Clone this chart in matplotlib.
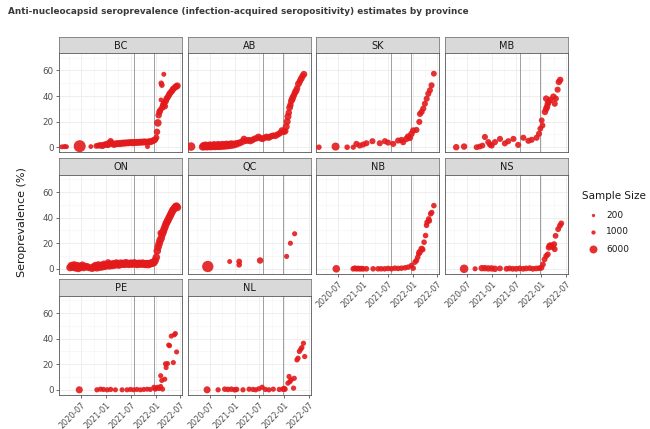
#!/usr/bin/env python3
# plot.py - seroprevalence by province, small multiples
import pandas as pd
import matplotlib
matplotlib.use("Agg")
import matplotlib.pyplot as plt
import matplotlib.dates as mdates

# ---- data ----
provinces = ["BC", "AB", "SK", "MB", "ON", "QC", "NB", "NS", "PE", "NL"]

bc_dates = ["2020-02-10", "2020-03-01", "2020-03-15", "2020-06-20", "2020-09-10", "2020-10-20",
            "2020-11-05", "2020-11-20", "2020-12-05", "2020-12-20", "2021-01-05", "2021-01-15",
            "2021-01-25", "2021-02-03", "2021-02-10", "2021-02-20", "2021-03-01", "2021-03-15",
            "2021-03-25", "2021-04-05", "2021-04-15", "2021-04-25", "2021-05-05", "2021-05-15",
            "2021-05-25", "2021-06-05", "2021-06-15", "2021-06-25", "2021-07-05", "2021-07-15",
            "2021-07-25", "2021-08-05", "2021-08-15", "2021-08-25", "2021-09-05", "2021-09-15",
            "2021-09-25", "2021-10-05", "2021-10-15", "2021-10-25", "2021-11-01", "2021-11-10",
            "2021-11-20", "2021-12-01", "2021-12-10", "2021-12-20", "2021-12-28", "2022-01-05",
            "2022-01-10", "2022-01-16", "2022-01-22", "2022-01-28", "2022-02-03", "2022-02-08",
            "2022-02-10", "2022-02-15", "2022-02-18", "2022-02-24", "2022-03-01", "2022-03-03",
            "2022-03-10", "2022-03-15", "2022-03-22", "2022-03-30", "2022-04-06", "2022-04-14",
            "2022-04-22", "2022-04-30", "2022-05-08", "2022-05-16", "2022-05-24", "2022-06-01",
            "2022-06-08"]
bc_sero = [0.3, 0.5, 0.4, 0.8, 0.5, 1.0, 1.3, 1.5, 1.2, 2.0, 2.3, 1.8, 3.5, 4.8, 3.0, 2.5, 2.2,
           2.8, 2.6, 3.0, 2.7, 3.2, 3.0, 3.4, 3.1, 3.5, 3.3, 3.6, 3.8, 3.4, 3.9, 3.6, 4.0, 3.7,
           4.1, 3.8, 4.2, 4.0, 4.3, 3.9, 0.5, 4.4, 4.2, 4.6, 5.0, 5.5, 6.0, 7.5, 12.0, 19.0,
           25.0, 27.5, 29.0, 37.0, 50.0, 48.5, 31.0, 33.0, 57.0, 34.5, 32.0, 36.0, 38.0, 39.0,
           40.5, 42.0, 43.0, 44.0, 45.5, 46.0, 47.0, 47.5, 48.0]
bc_n = [400, 500, 300, 8000, 300, 900, 1200, 1500, 1800, 1500, 1800, 1500, 1500, 1200, 1800,
        1500, 2000, 1800, 1500, 1800, 1500, 1800, 1500, 1800, 1500, 1800, 1500, 1800, 1500,
        1800, 1500, 1800, 1500, 1800, 1500, 1800, 1500, 1800, 1500, 1800, 400, 1500, 1800,
        1500, 1800, 1500, 1200, 1200, 1500, 2500, 1500, 1500, 1200, 300, 800, 800, 1500, 1500,
        400, 1500, 1200, 1500, 1500, 1200, 1500, 1500, 1200, 1500, 1500, 1200, 1500, 1500, 1800]

ab_dates = ["2020-02-15", "2020-05-10", "2020-05-18", "2020-05-25", "2020-06-02", "2020-06-10",
            "2020-06-18", "2020-06-25", "2020-07-03", "2020-07-10", "2020-07-18", "2020-07-25",
            "2020-08-02", "2020-08-10", "2020-08-18", "2020-08-25", "2020-09-02", "2020-09-10",
            "2020-09-18", "2020-09-25", "2020-10-03", "2020-10-10", "2020-10-18", "2020-10-25",
            "2020-11-02", "2020-11-10", "2020-11-18", "2020-11-25", "2020-12-03", "2020-12-10",
            "2020-12-18", "2020-12-25", "2021-01-10", "2021-01-25", "2021-02-10", "2021-03-01",
            "2021-03-10", "2021-03-25", "2021-04-10", "2021-04-25", "2021-05-10", "2021-05-25",
            "2021-06-10", "2021-06-25", "2021-07-10", "2021-07-25", "2021-08-10", "2021-08-25",
            "2021-09-10", "2021-09-25", "2021-10-10", "2021-10-28", "2021-11-15", "2021-11-30",
            "2021-12-15", "2021-12-28", "2022-01-08", "2022-01-15", "2022-01-22", "2022-01-28",
            "2022-02-03", "2022-02-09", "2022-02-15", "2022-02-21", "2022-02-28", "2022-03-05",
            "2022-03-12", "2022-03-20", "2022-03-28", "2022-04-05", "2022-04-15", "2022-04-25",
            "2022-05-05", "2022-05-15", "2022-05-25"]
ab_sero = [0.5, 0.3, 1.2, 0.5, 1.5, 0.4, 1.0, 0.6, 1.6, 0.5, 1.2, 0.7, 1.8, 0.6, 1.3, 0.8,
           1.9, 0.7, 1.4, 0.9, 2.0, 1.0, 1.6, 1.1, 2.2, 1.3, 1.8, 1.5, 2.4, 1.8, 2.2, 2.0, 2.5,
           3.0, 3.5, 4.5, 6.5, 5.0, 5.5, 5.0, 5.5, 6.5, 7.0, 8.0, 7.0, 6.5, 7.5, 8.0, 7.5, 8.5,
           9.0, 9.0, 10.0, 11.0, 13.0, 12.0, 12.5, 16.0, 20.0, 24.0, 27.0, 31.0, 33.0, 36.0,
           37.5, 39.0, 40.5, 42.5, 44.0, 46.0, 49.5, 51.5, 53.5, 55.5, 57.0]
ab_n = [3500, 2500, 2500, 2500, 2500, 2500, 2500, 2500, 2500, 2500, 2500, 2500, 2500, 2500,
        2500, 2500, 2500, 2500, 2500, 2500, 2500, 2500, 2500, 2500, 2500, 2500, 2500, 2500,
        2500, 2500, 2500, 2500, 2500, 2000, 2000, 2000, 1500, 1500, 1500, 2000, 1500, 1500,
        1500, 1800, 1500, 1500, 1500, 1800, 1500, 1500, 1500, 1800, 1500, 1500, 1800, 1500,
        1500, 2000, 2000, 2000, 1500, 1800, 1500, 1500, 1800, 1500, 1500, 1500, 1800, 1500,
        1800, 1500, 1800, 1500, 1800]

sk_dates = ["2020-02-10", "2020-06-12", "2020-09-05", "2020-10-20", "2020-11-12", "2020-12-07",
            "2021-01-01", "2021-01-25", "2021-03-10", "2021-05-03", "2021-06-10", "2021-07-03",
            "2021-08-10", "2021-09-15", "2021-10-10", "2021-10-22", "2021-11-15", "2021-11-27",
            "2021-12-10", "2021-12-22", "2022-01-04", "2022-01-28", "2022-02-18", "2022-02-23",
            "2022-03-07", "2022-03-19", "2022-03-31", "2022-04-13", "2022-04-25", "2022-05-07",
            "2022-05-19", "2022-06-05"]
sk_sero = [0.0, 0.5, 0.0, 0.0, 2.6, 1.3, 2.1, 3.1, 4.7, 3.1, 4.7, 3.6, 2.6, 5.2, 5.7, 3.9,
           6.5, 8.3, 7.3, 10.4, 13.0, 13.5, 19.8, 26.0, 27.6, 30.2, 34.0, 37.9, 41.8, 44.5,
           48.4, 57.5]
sk_n = [800, 3000, 800, 600, 1200, 1200, 1200, 1200, 1200, 1200, 1200, 1200, 1200, 1200, 1200,
        1200, 1500, 1500, 1500, 1500, 1500, 1200, 1200, 1200, 1200, 1200, 1200, 1200, 1200,
        1200, 1200, 1000]

mb_dates = ["2020-04-15", "2020-06-12", "2020-09-12", "2020-10-05", "2020-10-25", "2020-11-12",
            "2020-12-07", "2020-12-20", "2021-01-01", "2021-01-25", "2021-03-03", "2021-04-08",
            "2021-05-03", "2021-06-10", "2021-07-15", "2021-08-22", "2021-09-28", "2021-10-22",
            "2021-11-27", "2021-12-15", "2021-12-25", "2022-01-04", "2022-01-10", "2022-01-28",
            "2022-02-06", "2022-02-12", "2022-02-18", "2022-02-06", "2022-02-24", "2022-03-10",
            "2022-03-31", "2022-04-10", "2022-04-18", "2022-05-01", "2022-05-10", "2022-05-20"]
mb_sero = [0.0, 0.5, 0.0, 0.5, 1.3, 8.0, 4.0, 2.0, 1.3, 4.0, 6.5, 3.0, 4.7, 6.5, 1.8, 7.4,
           5.0, 5.8, 7.4, 10.5, 14.5, 21.0, 17.0, 27.6, 30.0, 31.6, 34.0, 38.0, 35.5, 37.0,
           39.5, 34.0, 38.0, 45.0, 51.0, 52.6]
mb_n = [1500, 1500, 1000, 1000, 1000, 1200, 1200, 1200, 1200, 1200, 1200, 1200, 1200, 1200,
        1200, 1200, 1200, 1200, 1200, 1200, 1000, 1000, 1000, 1500, 1500, 1500, 1500, 1500,
        1500, 1500, 1500, 1200, 1200, 1200, 1500, 1500]

on_dates = ["2020-04-10", "2020-04-20", "2020-04-30", "2020-05-10", "2020-05-20", "2020-05-30",
            "2020-06-10", "2020-06-20", "2020-07-01", "2020-07-10", "2020-07-20", "2020-08-01",
            "2020-08-15", "2020-09-01", "2020-09-20", "2020-10-05", "2020-10-15", "2020-10-25",
            "2020-11-05", "2020-11-15", "2020-11-25", "2020-12-05", "2020-12-15", "2020-12-25",
            "2021-01-05", "2021-01-15", "2021-01-25", "2021-02-05", "2021-02-15", "2021-02-25",
            "2021-03-07", "2021-03-17", "2021-03-27", "2021-04-07", "2021-04-17", "2021-04-27",
            "2021-05-07", "2021-05-17", "2021-05-27", "2021-06-07", "2021-06-17", "2021-06-27",
            "2021-07-07", "2021-07-17", "2021-07-27", "2021-08-07", "2021-08-17", "2021-08-27",
            "2021-09-07", "2021-09-17", "2021-09-27", "2021-10-07", "2021-10-17", "2021-10-27",
            "2021-11-07", "2021-11-17", "2021-11-27", "2021-12-07", "2021-12-17", "2021-12-27",
            "2022-01-05", "2022-01-12", "2022-01-18", "2022-01-25", "2022-02-01", "2022-02-06",
            "2022-02-10", "2022-02-18", "2022-02-25", "2022-03-03", "2022-03-10", "2022-03-17",
            "2022-03-24", "2022-03-31", "2022-04-07", "2022-04-14", "2022-04-21", "2022-04-28",
            "2022-05-05", "2022-05-12", "2022-05-19", "2022-05-26", "2022-06-02", "2022-06-09"]
on_sero = [1.0, 2.5, 1.5, 3.0, 1.0, 2.5, 0.5, 2.0, 1.5, 3.0, 1.0, 2.0, 1.5, 0.8, 0.5, 1.5,
           2.5, 1.0, 3.0, 1.5, 2.5, 1.8, 3.5, 2.2, 3.0, 5.0, 2.5, 3.5, 2.8, 4.0, 3.2, 4.5, 3.5,
           3.0, 4.2, 3.8, 4.0, 3.5, 4.5, 4.0, 3.7, 4.3, 4.0, 3.8, 4.4, 4.0, 3.6, 4.2, 4.0, 3.8,
           4.2, 3.9, 3.6, 4.1, 3.5, 4.0, 4.3, 4.6, 5.0, 6.5, 9.0, 14.0, 17.0, 19.5, 22.0, 28.0,
           24.0, 27.0, 29.0, 31.0, 33.0, 35.0, 36.5, 38.0, 39.5, 41.0, 42.5, 44.0, 45.5, 46.5,
           47.5, 48.5, 49.0, 48.0]
on_n = [2500, 2500, 3000, 2500, 3000, 2500, 3000, 2500, 3000, 2000, 2500, 2000, 2500, 2000,
        2500, 3000, 2500, 3000, 2500, 3000, 2500, 3000, 2500, 3000, 2500, 1500, 3000, 2500,
        3000, 2500, 3000, 2500, 3000, 2500, 3000, 2500, 3000, 2500, 3000, 2500, 3000, 2500,
        3000, 2500, 3000, 2500, 3000, 2500, 3000, 2500, 3000, 2500, 3000, 2500, 3000, 2500,
        3000, 2500, 3000, 2500, 2500, 2500, 2500, 2500, 2500, 1500, 2500, 2500, 2500, 2500,
        2500, 2500, 2500, 2500, 2500, 2500, 2500, 2500, 2500, 2500, 2500, 2500, 2500, 2500]

qc_dates = ["2020-06-17", "2020-11-25", "2021-02-03", "2021-02-03", "2021-07-07", "2022-01-18",
            "2022-02-15", "2022-03-18"]
qc_sero = [1.8, 5.7, 5.7, 3.1, 6.5, 9.7, 20.0, 27.4]
qc_n = [7000, 400, 1000, 800, 1500, 500, 500, 500]

nb_dates = ["2020-06-17", "2020-10-20", "2020-11-01", "2020-11-12", "2020-11-25", "2020-12-07",
            "2020-12-20", "2021-01-01", "2021-01-25", "2021-03-15", "2021-04-20", "2021-05-13",
            "2021-06-08", "2021-07-03", "2021-07-28", "2021-08-22", "2021-09-15", "2021-10-10",
            "2021-11-05", "2021-11-28", "2021-12-22", "2022-01-04", "2022-01-17", "2022-01-28",
            "2022-02-06", "2022-02-14", "2022-02-20", "2022-03-07", "2022-03-15", "2022-03-25",
            "2022-04-05", "2022-04-12", "2022-04-16", "2022-04-28", "2022-05-03", "2022-05-12",
            "2022-05-20", "2022-06-05"]
nb_sero = [0.0, 0.0, 0.5, 0.0, 0.3, 0.0, 0.2, 0.0, 0.0, 0.0, 0.0, 0.0, 0.0, 0.3, 0.0, 0.5,
           0.3, 0.5, 0.8, 1.3, 2.6, 0.5, 5.2, 6.5, 9.0, 11.7, 13.0, 15.6, 15.0, 20.8, 26.0, 34.0,
           36.4, 39.0, 37.5, 43.0, 44.0, 49.4]
nb_n = [2500, 900, 900, 900, 900, 900, 900, 900, 900, 800, 800, 800, 800, 800, 800, 800, 800,
        800, 800, 800, 800, 800, 800, 800, 800, 800, 1500, 1500, 800, 800, 800, 800, 800, 800,
        800, 800, 800, 800]

ns_dates = ["2020-06-12", "2020-09-01", "2020-10-20", "2020-11-12", "2020-12-07", "2021-01-01",
            "2021-01-25", "2021-03-03", "2021-04-20", "2021-05-12", "2021-06-05", "2021-06-30",
            "2021-07-25", "2021-08-20", "2021-09-12", "2021-10-08", "2021-10-31", "2021-11-25",
            "2021-12-18", "2022-01-02", "2022-01-13", "2022-01-25", "2022-02-06", "2022-02-18",
            "2022-02-25", "2022-03-02", "2022-03-10", "2022-03-18", "2022-03-26", "2022-04-05",
            "2022-04-10", "2022-04-16", "2022-05-05", "2022-05-18", "2022-05-28"]
ns_sero = [0.0, 0.0, 0.5, 0.5, 0.3, 0.3, 0.0, 0.3, 0.0, 0.3, 0.0, 0.0, 0.3, 0.0, 0.3, 0.5,
           0.0, 0.3, 0.5, 0.8, 3.4, 7.4, 10.0, 11.3, 16.6, 18.0, 18.4, 17.8, 17.0, 19.2, 15.3,
           25.8, 31.0, 33.7, 35.5]
ns_n = [3500, 500, 1500, 1500, 1500, 1500, 1500, 1000, 1000, 1000, 1000, 1000, 1000, 1000,
        1000, 1000, 1000, 1000, 1000, 1000, 1000, 1000, 1000, 1000, 1200, 1200, 1200, 1200,
        1200, 1200, 1000, 1000, 1000, 1000, 1000]

pe_dates = ["2020-06-17", "2020-10-25", "2020-11-20", "2020-12-12", "2021-01-08", "2021-02-03",
            "2021-03-10", "2021-04-28", "2021-06-03", "2021-06-28", "2021-07-22", "2021-08-15",
            "2021-09-10", "2021-10-05", "2021-10-30", "2021-11-22", "2021-12-18", "2021-12-28",
            "2022-01-05", "2022-01-15", "2022-01-25", "2022-02-06", "2022-02-06", "2022-02-14",
            "2022-02-20", "2022-03-08", "2022-03-13", "2022-03-18", "2022-03-28", "2022-04-06",
            "2022-04-12", "2022-04-25", "2022-05-10", "2022-05-18", "2022-05-25", "2022-06-03"]
pe_sero = [0.0, 0.0, 0.5, 0.3, 0.0, 0.3, 0.0, 0.0, 0.0, 0.3, 0.0, 0.3, 0.0, 0.3, 0.5, 0.3,
           2.0, 0.5, 1.2, 2.0, 1.0, 2.6, 11.0, 7.3, 0.5, 8.3, 20.3, 17.4, 20.5, 35.0, 34.5, 42.0,
           21.3, 43.0, 44.0, 29.6]
pe_n = [2000, 600, 600, 600, 600, 600, 500, 500, 500, 500, 500, 500, 500, 500, 500, 500, 500,
        500, 500, 500, 500, 500, 500, 500, 500, 500, 500, 500, 500, 500, 500, 500, 500, 500,
        500, 500]

nl_dates = ["2020-06-12", "2020-09-01", "2020-10-20", "2020-11-12", "2020-12-07", "2021-01-01",
            "2021-01-15", "2021-03-03", "2021-04-17", "2021-05-15", "2021-06-05", "2021-06-28",
            "2021-07-22", "2021-08-15", "2021-09-10", "2021-10-12", "2021-11-25", "2021-12-22",
            "2021-12-30", "2022-01-06", "2022-01-28", "2022-02-05", "2022-02-12", "2022-02-20",
            "2022-03-10", "2022-03-15", "2022-04-04", "2022-04-12", "2022-04-22", "2022-05-02",
            "2022-05-10", "2022-05-22", "2022-05-31"]
nl_sero = [0.0, 0.0, 0.5, 0.3, 0.5, 0.0, 0.3, 0.0, 0.5, 0.3, 0.0, 0.8, 2.0, 0.3, 0.0, 0.5,
           0.3, 0.5, 1.0, 0.5, 5.2, 10.4, 6.5, 7.8, 1.3, 9.0, 23.4, 24.7, 30.0, 31.7, 33.0,
           36.4, 26.0]
nl_n = [2000, 600, 800, 800, 800, 800, 800, 600, 600, 600, 600, 600, 600, 600, 600, 600, 600,
        800, 800, 800, 600, 600, 600, 600, 600, 600, 600, 600, 600, 600, 600, 600, 600]

series = {
    "BC": (bc_dates, bc_sero, bc_n), "AB": (ab_dates, ab_sero, ab_n),
    "SK": (sk_dates, sk_sero, sk_n), "MB": (mb_dates, mb_sero, mb_n),
    "ON": (on_dates, on_sero, on_n), "QC": (qc_dates, qc_sero, qc_n),
    "NB": (nb_dates, nb_sero, nb_n), "NS": (ns_dates, ns_sero, ns_n),
    "PE": (pe_dates, pe_sero, pe_n), "NL": (nl_dates, nl_sero, nl_n),
}

event_lines = ["2021-07-28", "2021-12-19"]
x_ticks = ["2020-07-01", "2021-01-01", "2021-07-01", "2022-01-01", "2022-07-01"]
x_minor = ["2020-04-01", "2020-10-01", "2021-04-01", "2021-10-01", "2022-04-01"]
y_ticks = [0, 20, 40, 60]
y_minor = [10, 30, 50, 70]
legend_sizes = [200, 1000, 6000]

title = "Anti-nucleocapsid seroprevalence (infection-acquired seropositivity) estimates by province"

# ---- style ----
RED = "#E31A1C"
W, H = 650, 429


def msize(n):
    # area in pt^2, roughly matching ggplot's scale_size
    return 0.68 * (14 + 0.012 * n)


def px_rect(x, y_top, w, h):
    return [x / W, 1 - (y_top + h) / H, w / W, h / H]


fig = plt.figure(figsize=(6.5, 4.29), dpi=100)

col_left = [59.3, 187.8, 316.3, 444.8]
row_top = [36.7, 158.3, 279.3]
panel_w, strip_h, panel_h = 123.0, 16.5, 99.0

# which panels get x labels (bottom of each column)
bottom_of_col = {0: 2, 1: 2, 2: 1, 3: 1}

xmin, xmax = pd.Timestamp("2020-01-22"), pd.Timestamp("2022-07-15")

for i, prov in enumerate(provinces):
    r, c = divmod(i, 4)
    x0, y0 = col_left[c], row_top[r]

    sax = fig.add_axes(px_rect(x0, y0, panel_w, strip_h))
    sax.set_facecolor("#D9D9D9")
    sax.set_xticks([])
    sax.set_yticks([])
    for sp in sax.spines.values():
        sp.set_color("#7A7A7A")
        sp.set_linewidth(0.6)
    sax.text(0.5, 0.45, prov, ha="center", va="center", fontsize=7, color="#1A1A1A",
             transform=sax.transAxes)

    ax = fig.add_axes(px_rect(x0, y0 + strip_h, panel_w, panel_h))
    ax.set_xlim(xmin, xmax)
    ax.set_ylim(-3.9, 73.5)
    ax.set_xticks(pd.to_datetime(x_ticks))
    ax.set_xticks(pd.to_datetime(x_minor), minor=True)
    ax.set_yticks(y_ticks)
    ax.set_yticks(y_minor, minor=True)
    ax.grid(which="major", color="#EBEBEB", lw=0.6)
    ax.grid(which="minor", color="#F3F3F3", lw=0.4)
    ax.set_axisbelow(True)
    for sp in ax.spines.values():
        sp.set_color("#555555")
        sp.set_linewidth(0.6)
    ax.tick_params(which="minor", length=0)

    for d in event_lines:
        ax.axvline(pd.Timestamp(d), color="#9E9E9E", lw=0.7, zorder=1)

    dates, sero, n = series[prov]
    ax.scatter(pd.to_datetime(dates), sero, s=[msize(v) for v in n], color=RED,
               alpha=0.9, linewidths=0, zorder=3)

    ax.xaxis.set_major_formatter(mdates.DateFormatter("%Y-%m"))
    show_x = bottom_of_col[c] == r
    show_y = c == 0
    ax.tick_params(axis="x", which="major", length=2.5 if show_x else 0, width=0.5,
                   color="#333333", labelsize=5.8, labelcolor="#4D4D4D", pad=1.5,
                   labelbottom=show_x)
    ax.tick_params(axis="y", which="major", length=2.5 if show_y else 0, width=0.5,
                   color="#333333", labelsize=6.3, labelcolor="#4D4D4D", pad=1.5,
                   labelleft=show_y)
    if show_x:
        for lab in ax.get_xticklabels():
            lab.set_rotation(45)
            lab.set_ha("right")
            lab.set_rotation_mode("anchor")

# overlay axes in pixel coordinates for title, y label and legend
ov = fig.add_axes([0, 0, 1, 1])
ov.set_xlim(0, W)
ov.set_ylim(H, 0)
ov.axis("off")
ov.patch.set_alpha(0)

ov.text(8, 12, title, fontsize=6.4, fontweight="bold", color="#3A3A3A", va="center", ha="left")
ov.text(22, 222, "Seroprevalence (%)", rotation=90, fontsize=8, color="#1A1A1A",
        va="center", ha="center")

ov.text(582, 196, "Sample Size", fontsize=7.5, color="#1A1A1A", va="center", ha="left")
for k, v in enumerate(legend_sizes):
    yy = 215 + 17 * k
    ov.scatter([593], [yy], s=0.52 * (9 + 0.009 * v), color=RED, alpha=0.9, linewidths=0)
    ov.text(606, yy, str(v), fontsize=6.5, color="#1A1A1A", va="center", ha="left")

fig.savefig("out.png", dpi=100)
